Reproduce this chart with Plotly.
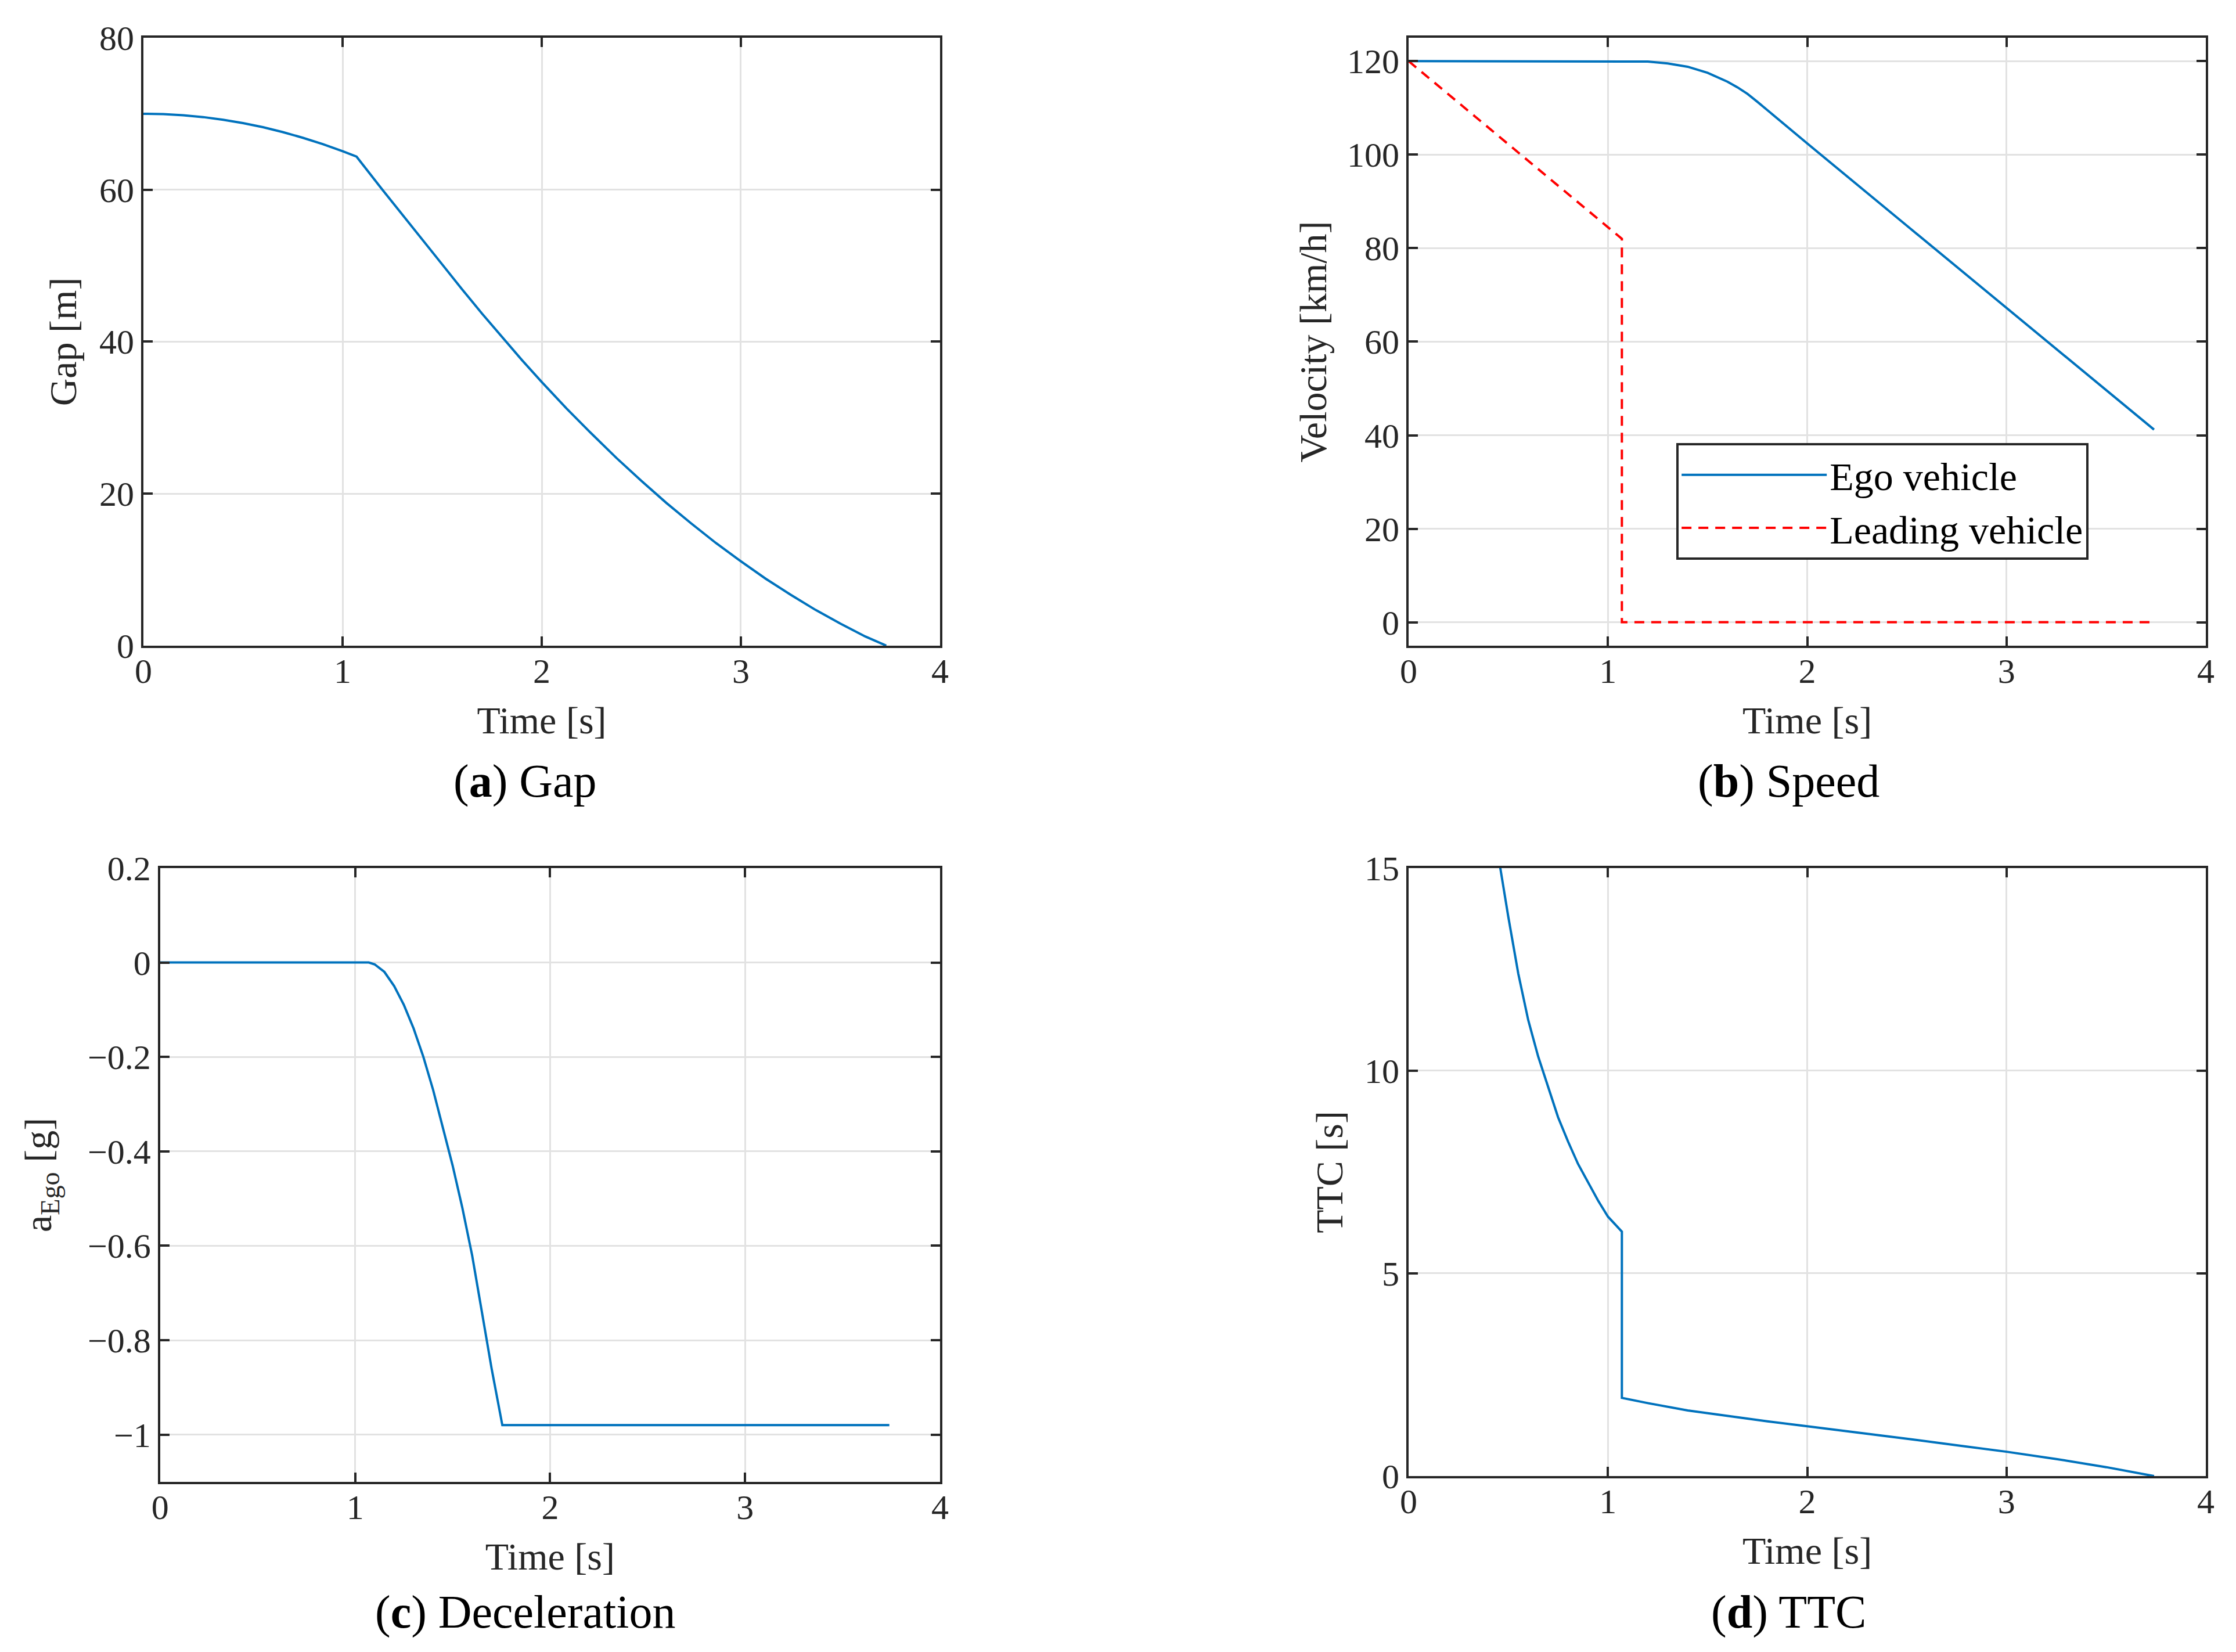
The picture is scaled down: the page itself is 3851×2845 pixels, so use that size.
import plotly.graph_objects as go
from plotly.subplots import make_subplots

# values

# (a) gap between ego and leading vehicle
gap_t = [0, 0.1, 0.2, 0.3, 0.4, 0.5, 0.6, 0.7, 0.8, 0.9, 1.0, 1.07, 1.2, 1.3,
         1.4, 1.5, 1.6, 1.7, 1.8, 1.9, 2.0, 2.125, 2.25, 2.375, 2.5, 2.625,
         2.75, 2.875, 3.0, 3.125, 3.25, 3.375, 3.5, 3.625, 3.73]
gap_m = [70, 69.95, 69.8, 69.56, 69.21, 68.77, 68.23, 67.58, 66.84, 66.01,
         65.07, 64.36, 60.0, 56.7, 53.4, 50.1, 46.9, 43.7, 40.6, 37.6, 34.7,
         31.2, 27.9, 24.7, 21.7, 18.8, 16.1, 13.5, 11.1, 8.8, 6.7, 4.7, 2.9,
         1.2, 0]

# (b) speeds
ego_t = [0, 1.0, 1.1, 1.2, 1.3, 1.4, 1.5, 1.6, 1.65, 1.7, 1.75, 1.8, 2.0, 2.5,
         3.0, 3.5, 3.74]
ego_kmh = [120, 120, 120, 119.9, 119.5, 118.8, 117.5, 115.6, 114.4, 113.0,
           111.3, 109.5, 102.4, 84.8, 67.2, 49.6, 41.2]
lead_t = [0, 1.07, 1.07, 3.74]
lead_kmh = [120, 82, 0, 0]

# (c) ego deceleration
acc_t = [0, 1.07, 1.1, 1.15, 1.2, 1.25, 1.3, 1.35, 1.4, 1.45, 1.5, 1.55, 1.6,
         1.65, 1.7, 1.755, 3.74]
acc_g = [0, 0, -0.004, -0.02, -0.05, -0.09, -0.14, -0.2, -0.27, -0.35, -0.43,
         -0.52, -0.62, -0.74, -0.86, -0.98, -0.98]

# (d) time to collision
ttc_t = [0.45, 0.5, 0.55, 0.6, 0.65, 0.7, 0.75, 0.8, 0.85, 0.9, 0.95, 1.0,
         1.07, 1.07, 1.2, 1.4, 1.6, 1.8, 2.0, 2.25, 2.5, 2.75, 3.0, 3.25, 3.5,
         3.74]
ttc_s = [15.3, 13.8, 12.4, 11.25, 10.35, 9.6, 8.85, 8.25, 7.7, 7.25, 6.8, 6.4,
         6.03, 1.93, 1.8, 1.62, 1.48, 1.35, 1.23, 1.08, 0.92, 0.76, 0.6, 0.42,
         0.22, 0]

acc_ticks = [-1, -0.8, -0.6, -0.4, -0.2, 0, 0.2]
acc_ticktext = ["\u22121", "\u22120.8", "\u22120.6", "\u22120.4", "\u22120.2", "0", "0.2"]

captions = ["(<b>a</b>) Gap", "(<b>b</b>) Speed", "(<b>c</b>) Deceleration", "(<b>d</b>) TTC"]

BLUE = "#0072BD"
AXC = "#262626"
# page body keeps its 8px margin, so the figure is 8px smaller than the window
W, H = 3843, 2837

fig = make_subplots(rows=2, cols=2)

fig.add_trace(go.Scatter(x=gap_t, y=gap_m, mode="lines", line=dict(color=BLUE, width=4),
                         showlegend=False), row=1, col=1)
fig.add_trace(go.Scatter(x=ego_t, y=ego_kmh, mode="lines", name="Ego vehicle",
                         line=dict(color=BLUE, width=4)), row=1, col=2)
fig.add_trace(go.Scatter(x=lead_t, y=lead_kmh, mode="lines", name="Leading vehicle",
                         line=dict(color="#FF0000", width=4, dash="17px,12px")), row=1, col=2)
fig.add_trace(go.Scatter(x=acc_t, y=acc_g, mode="lines", line=dict(color=BLUE, width=4),
                         showlegend=False), row=2, col=1)
fig.add_trace(go.Scatter(x=ttc_t, y=ttc_s, mode="lines", line=dict(color=BLUE, width=4),
                         showlegend=False), row=2, col=2)

axis_style = dict(showline=True, linecolor=AXC, linewidth=4, mirror="ticks",
                  ticks="inside", ticklen=16, tickwidth=4, tickcolor=AXC,
                  showgrid=True, gridcolor="#e2e2e2", gridwidth=3, zeroline=False,
                  automargin=False, tickfont=dict(size=60),
                  title_font=dict(size=66))
fig.update_xaxes(range=[0, 4], tick0=0, dtick=1, title_text="Time [s]", title_standoff=30,
                 ticklabelstandoff=-12, **axis_style)
fig.update_yaxes(ticklabelstandoff=0, **axis_style)

# panel positions (paper coordinates)
fig['layout']['xaxis']['domain'] = [0.0622, 0.4192]
fig['layout']['yaxis']['domain'] = [0.6109, 0.9799]
fig['layout']['xaxis2']['domain'] = [0.6292, 0.9865]
fig['layout']['yaxis2']['domain'] = [0.6109, 0.9799]
fig['layout']['xaxis3']['domain'] = [0.0697, 0.4192]
fig['layout']['yaxis3']['domain'] = [0.1033, 0.4759]
fig['layout']['xaxis4']['domain'] = [0.6292, 0.9865]
fig['layout']['yaxis4']['domain'] = [0.1068, 0.4759]

fig['layout']['yaxis']['range'] = [0, 80]
fig['layout']['yaxis']['dtick'] = 20
fig['layout']['yaxis']['title']['text'] = "Gap [m]"
fig['layout']['yaxis']['title']['standoff'] = 19
fig['layout']['yaxis2']['range'] = [-5, 125]
fig['layout']['yaxis2']['tick0'] = 0
fig['layout']['yaxis2']['dtick'] = 20
fig['layout']['yaxis2']['title']['text'] = "Velocity [km/h]"
fig['layout']['yaxis2']['title']['standoff'] = 15
fig['layout']['yaxis3']['range'] = [-1.1, 0.2]
fig['layout']['yaxis3']['tickvals'] = acc_ticks
fig['layout']['yaxis3']['ticktext'] = acc_ticktext
fig['layout']['yaxis3']['title']['text'] = "a<sub>Ego</sub> [g]"
fig['layout']['yaxis3']['title']['standoff'] = 42
fig['layout']['yaxis4']['range'] = [0, 15]
fig['layout']['yaxis4']['dtick'] = 5
fig['layout']['yaxis4']['title']['text'] = "TTC [s]"
fig['layout']['yaxis4']['title']['standoff'] = 17

for txt, x, y in zip(captions, [0.2332, 0.7996, 0.2332, 0.7996], [0.5284, 0.5284, 0.0240, 0.0240]):
    fig.add_annotation(text=txt, x=x, y=y, xref="paper", yref="paper", showarrow=False,
                       xanchor="center", yanchor="middle",
                       font=dict(size=80, color="black"))

fig.update_layout(
    width=W, height=H,
    margin=dict(l=0, r=0, t=0, b=0),
    plot_bgcolor="white", paper_bgcolor="white",
    font=dict(family="Liberation Serif", size=62, color=AXC),
    legend=dict(x=0.7492, y=0.7339, xanchor="left", yanchor="top",
                bgcolor="white", bordercolor=AXC, borderwidth=4,
                font=dict(size=68, color="black"), itemwidth=250),
)

fig.write_html("out.html")
